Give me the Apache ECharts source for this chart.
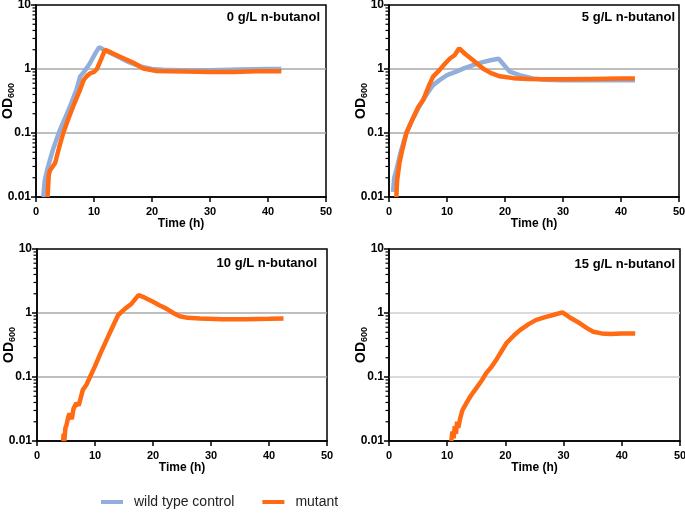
<!DOCTYPE html>
<html>
<head>
<meta charset="utf-8">
<script src="https://cdn.jsdelivr.net/npm/echarts@6/dist/echarts.min.js"></script>
<style>html,body{margin:0;padding:0;background:#fff}#c{width:685px;height:513px}</style>
</head>
<body>
<div id="c"></div>
<script>
// ---- data ----
const panelTitles = ['0 g/L n-butanol', '5 g/L n-butanol', '10 g/L n-butanol', '15 g/L n-butanol'];
const seriesNames = ['wild type control', 'mutant'];
const xTickLabels = ['0', '10', '20', '30', '40', '50'];
const yTickLabels = ['0.01', '0.1', '1', '10'];
const minorTickValues = [0.02,0.03,0.04,0.05,0.06,0.07,0.08,0.09,0.2,0.3,0.4,0.5,0.6,0.7,0.8,0.9,2,3,4,5,6,7,8,9];

// 0 g/L
const p0WtTime = [1.26,1.5,2.0,2.4,3.0,4.1,5.0,6.0,7.0,7.6,8.4,9.3,10.3,10.9,11.7,13.0,14.5,16,18,20,22,25,30,35,40,42.3];
const p0WtOD   = [0.01,0.018,0.028,0.038,0.058,0.11,0.17,0.28,0.48,0.76,0.93,1.23,1.8,2.2,2.0,1.75,1.5,1.28,1.1,1.0,0.97,0.96,0.96,0.98,1.0,1.0];
const p0MutTime = [2.0,2.1,2.2,2.4,3.3,4.0,4.7,5.5,6.4,7.5,8.2,8.8,9.3,10.0,10.5,11.2,11.9,13,14.5,16.8,18.5,20.8,23,26,30,34,38,42.3];
const p0MutOD   = [0.01,0.015,0.022,0.026,0.034,0.06,0.1,0.16,0.26,0.45,0.67,0.78,0.85,0.9,1.0,1.4,2.0,1.8,1.55,1.25,1.02,0.93,0.92,0.91,0.9,0.9,0.92,0.92];

// 5 g/L
const p1WtTime = [0.7,0.9,1.3,2.0,3.0,4.0,5.0,5.9,7.0,7.6,8.7,10,11.6,13,14.5,16,17.5,18.9,19.5,20.8,22.5,24.8,27,30,35,40,42.4];
const p1WtOD   = [0.012,0.02,0.027,0.05,0.1,0.16,0.24,0.33,0.47,0.56,0.67,0.8,0.91,1.03,1.15,1.27,1.37,1.45,1.25,0.91,0.8,0.71,0.68,0.67,0.67,0.67,0.67];
const p1MutTime = [1.26,1.4,1.8,2.3,3.0,4.0,5.0,5.9,7.0,7.6,8.7,9.6,10.5,11.3,12.1,13.2,14.5,16.2,17.5,19.1,21.4,24,27,30,35,40,42.4];
const p1MutOD   = [0.01,0.018,0.034,0.055,0.1,0.16,0.25,0.33,0.58,0.76,0.96,1.2,1.46,1.64,2.1,1.7,1.37,1.02,0.87,0.77,0.72,0.7,0.69,0.69,0.7,0.71,0.71];

// 10 g/L
const p2MutTime = [4.5,4.6,4.7,4.9,5.1,5.4,5.6,6.0,6.3,6.8,7.2,7.9,8.5,9.96,11,12,13,14,15.2,16.3,17.5,18.5,20,21,22.3,23.5,24.6,26,28.1,32,36,40,42.5];
const p2MutOD   = [0.01,0.013,0.01,0.016,0.018,0.024,0.027,0.022,0.032,0.039,0.036,0.063,0.075,0.145,0.24,0.38,0.6,0.93,1.17,1.4,1.9,1.75,1.5,1.33,1.17,1.0,0.89,0.84,0.82,0.8,0.8,0.81,0.82];

// 15 g/L
const p3MutTime = [10.7,10.9,11.1,11.3,11.5,11.7,11.9,12.2,12.6,13.3,14.0,15.0,16.0,16.7,17.5,18.5,20.2,21.5,22.5,24,25.3,27,28.2,29.8,31,32.8,34,35.1,36.5,38,40,42.3];
const p3MutOD   = [0.01,0.014,0.011,0.017,0.013,0.02,0.016,0.022,0.03,0.039,0.05,0.067,0.09,0.115,0.14,0.19,0.34,0.45,0.54,0.67,0.78,0.87,0.93,1.02,0.86,0.69,0.58,0.51,0.48,0.47,0.48,0.48];

const panels = [
  {wt: [p0WtTime, p0WtOD], mut: [p0MutTime, p0MutOD]},
  {wt: [p1WtTime, p1WtOD], mut: [p1MutTime, p1MutOD]},
  {wt: null, mut: [p2MutTime, p2MutOD]},
  {wt: null, mut: [p3MutTime, p3MutOD]}
];

// ---- layout / style ----
const FONT = 'Liberation Sans, Arial, Helvetica, sans-serif';
const BLUE = '#92AFDC';
const ORANGE = '#FF6A13';
const grids = [
  {left: 36, top: 5, width: 290, height: 192},
  {left: 389, top: 5, width: 290, height: 192},
  {left: 37, top: 249, width: 290, height: 192},
  {left: 389, top: 249, width: 291, height: 192}
];
const gridLineColors = ['#a8a8a8', '#a8a8a8', '#a8a8a8', '#cfcfcf'];
const titlePos = [[320, 17], [675, 17], [317, 263], [675, 264]];

const zip = (t, v) => t.map((x, i) => [x, v[i]]);

const option = {
  animation: false,
  backgroundColor: '#fff',
  grid: grids.map(g => Object.assign({show: true, borderColor: '#000', borderWidth: 1.5, backgroundColor: 'transparent',
    containLabel: false, outerBoundsMode: 'none'}, g)),
  xAxis: grids.map((g, i) => ({
    type: 'value', gridIndex: i, min: 0, max: 50, interval: 10,
    axisLine: {show: true, onZero: false, lineStyle: {color: '#000', width: 1.5}},
    axisTick: {show: true, length: 5, lineStyle: {color: '#000', width: 1.5}},
    axisLabel: {color: '#000', fontFamily: FONT, fontWeight: 'bold', fontSize: 11, margin: 9,
      formatter: (v, idx) => xTickLabels[idx]},
    splitLine: {show: false},
    name: 'Time (h)', nameLocation: 'middle', nameGap: 21, nameMoveOverlap: false,
    nameTextStyle: {color: '#000', fontFamily: FONT, fontWeight: 'bold', fontSize: 12}
  })),
  yAxis: grids.map((g, i) => ({
    type: 'log', logBase: 10, gridIndex: i, min: 0.01, max: 10,
    axisLine: {show: true, onZero: false, lineStyle: {color: '#000', width: 1.5}},
    axisTick: {show: true, length: 5, lineStyle: {color: '#000', width: 1.5}},
    axisLabel: {color: '#000', fontFamily: FONT, fontWeight: 'bold', fontSize: 12, margin: 5,
      formatter: (v, idx) => yTickLabels[idx]},
    splitLine: {show: true, showMinLine: false, showMaxLine: false, lineStyle: {color: gridLineColors[i], width: 1.5}},
    name: '{a|OD}{b|600}', nameLocation: 'middle', nameGap: 20, nameRotate: 90, nameMoveOverlap: false,
    nameTextStyle: {color: '#000', fontFamily: FONT, fontWeight: 'bold',
      rich: {
        a: {fontFamily: FONT, fontWeight: 'bold', fontSize: 14, color: '#000'},
        b: {fontFamily: FONT, fontWeight: 'bold', fontSize: 9, color: '#000', padding: [6, 0, 0, 0]}
      }}
  })),
  legend: {
    data: seriesNames, top: 490, left: 96, itemWidth: 22, itemHeight: 4, itemGap: 28,
    icon: 'rect',
    textStyle: {fontFamily: FONT, fontSize: 14, color: '#222', padding: [0, 0, 0, 6]}
  },
  graphic: panelTitles.map((t, i) => ({
    type: 'text', x: titlePos[i][0], y: titlePos[i][1],
    style: {text: t, fontFamily: FONT, fontWeight: 'bold', fontSize: 13, fill: '#000', align: 'right', verticalAlign: 'middle'}
  })),
  series: []
};

panels.forEach((p, i) => {
  if (p.wt) option.series.push({
    name: seriesNames[0], type: 'line', xAxisIndex: i, yAxisIndex: i, showSymbol: false,
    data: zip(p.wt[0], p.wt[1]), lineStyle: {color: BLUE, width: 4.5}, itemStyle: {color: BLUE}, z: 2
  });
  option.series.push({
    name: seriesNames[1], type: 'line', xAxisIndex: i, yAxisIndex: i, showSymbol: false,
    data: zip(p.mut[0], p.mut[1]), lineStyle: {color: ORANGE, width: 4.5}, itemStyle: {color: ORANGE}, z: 3
  });
  option.series.push({
    type: 'custom', xAxisIndex: i, yAxisIndex: i, silent: true, clip: false, z: 5,
    data: minorTickValues.map(v => [0, v]),
    renderItem: (params, api) => {
      const pt = api.coord([0, api.value(1)]);
      return {type: 'line', shape: {x1: pt[0] - 3.5, y1: pt[1], x2: pt[0], y2: pt[1]},
        style: {stroke: '#000', lineWidth: 1.2}};
    }
  });
});

option.series.push({name: seriesNames[0], type: 'line', xAxisIndex: 2, yAxisIndex: 2, data: [], lineStyle: {color: BLUE, width: 4.5}, itemStyle: {color: BLUE}});

const chart = echarts.init(document.getElementById('c'), null, {renderer: 'canvas'});
chart.setOption(option);
</script>
</body>
</html>
